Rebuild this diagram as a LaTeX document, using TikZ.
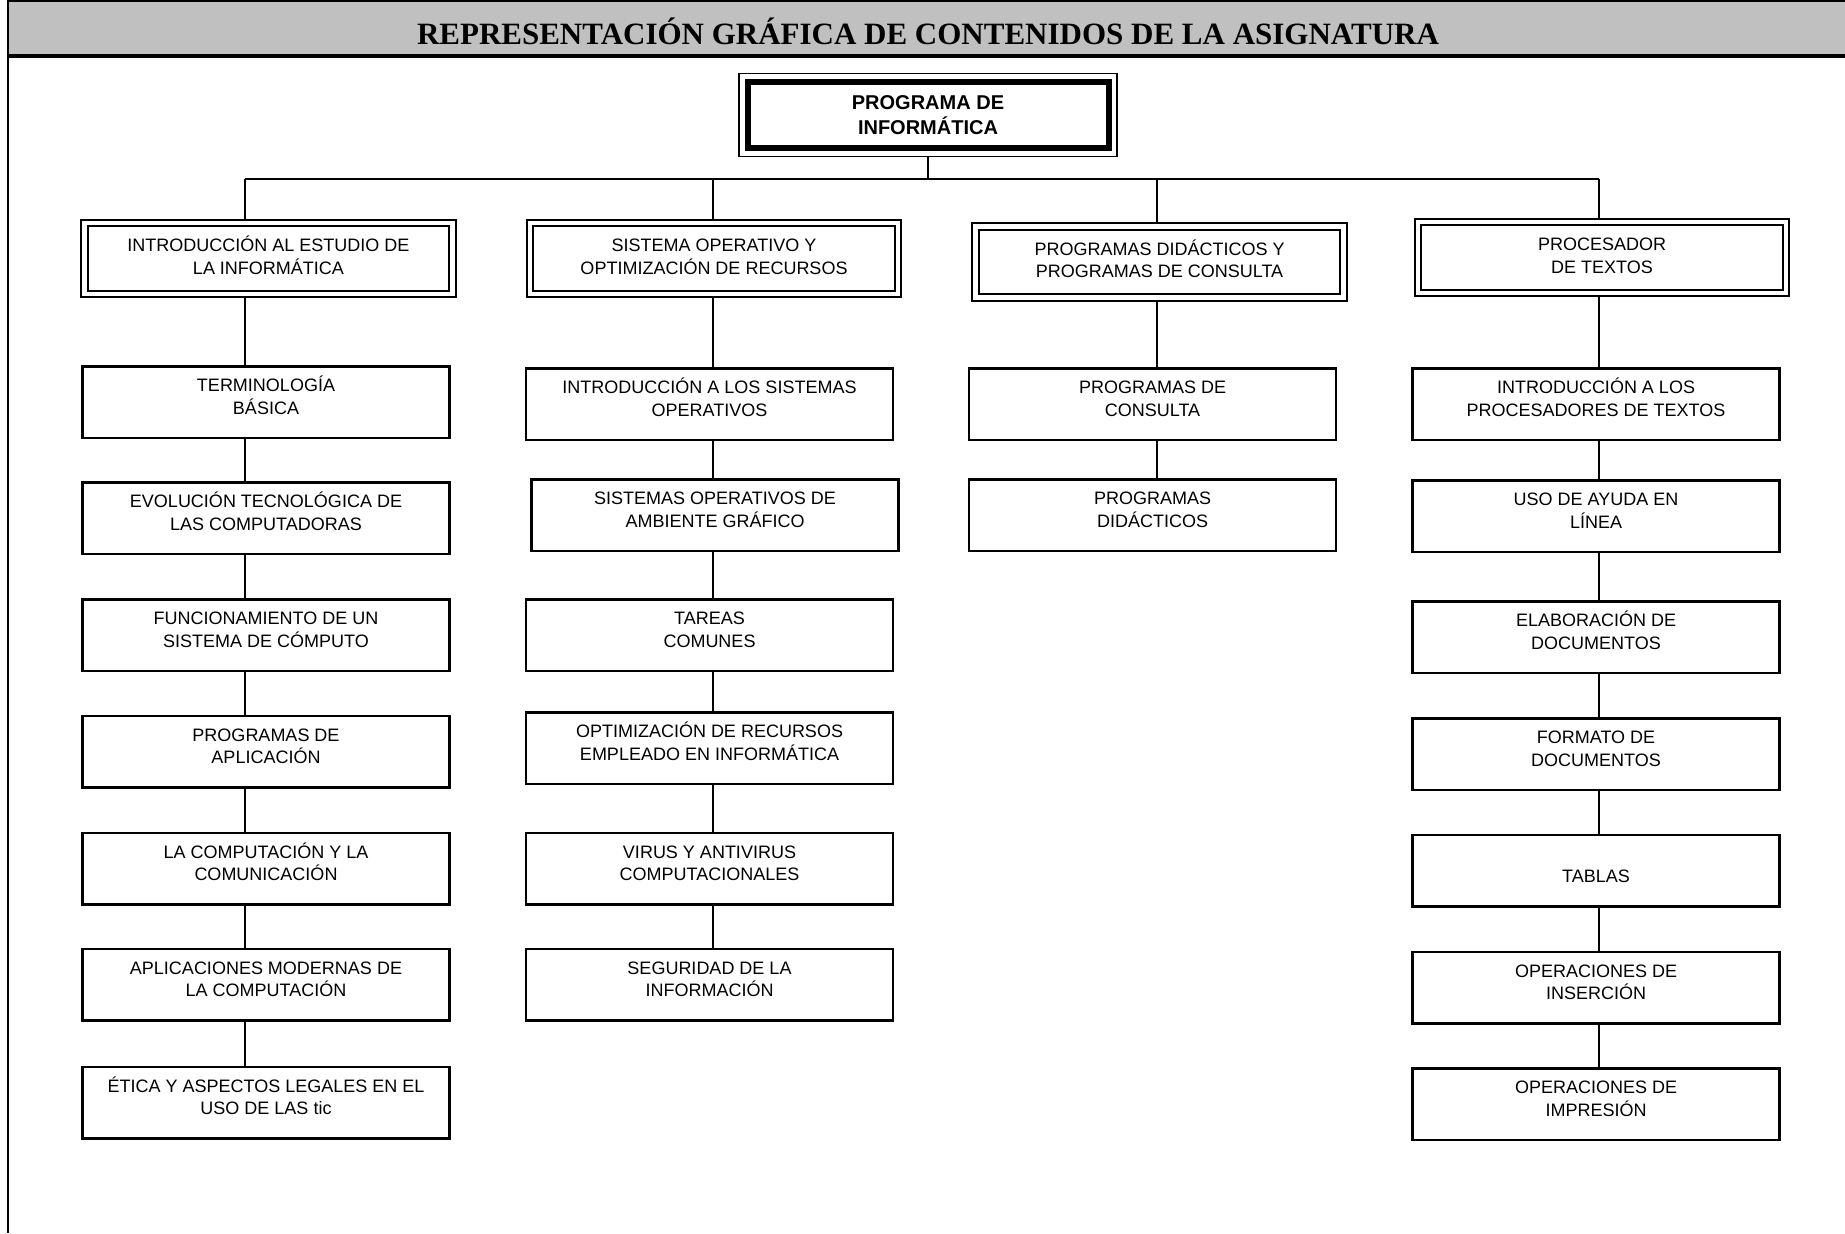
\documentclass[tikz,border=0pt]{standalone}
\usepackage{fontspec}
\setmainfont{Liberation Serif}
\setsansfont{Liberation Sans}
\usetikzlibrary{positioning}
\definecolor{barragris}{RGB}{192,192,192}

\begin{document}
\begin{tikzpicture}[x=0.5pt,y=-0.5pt]
          \useasboundingbox (0,0) rectangle (1845,1233);
          % marco y barra del titulo
          \fill[barragris] (8,1) rectangle (1845,56);
          \draw[line width=0.6pt] (8,1) -- (1845,1);
          \draw[line width=1.6pt] (8,56) -- (1845,56);
          \draw[line width=1pt] (8,0) -- (8,1233);
          \node (titulo) at (928,31) {\fontsize{15.5}{18}\selectfont\bfseries REPRESENTACIÓN GRÁFICA DE CONTENIDOS DE LA ASIGNATURA};
          \node (prog) [draw, line width=3pt, outer sep=4.25pt, minimum width=180.5pt, minimum height=33pt, align=center, font=\sffamily\bfseries\fontsize{10}{12.5}\selectfont] at (928,115) {PROGRAMA DE\\INFORMÁTICA};
          \draw[line width=0.6pt] (prog.north west) rectangle (prog.south east);
          \coordinate (bus) at (928,179);
          \coordinate (s1) at (245,179);
          \coordinate (s2) at (713,179);
          \coordinate (s3) at (1157,179);
          \coordinate (s4) at (1599,179);
          \begin{scope}[every node/.style={draw, double, line width=1.1pt, double distance=2.2pt, outer sep=2.2pt, minimum width=184pt, minimum height=35.5pt, align=center, text height=16pt, text depth=0.5pt, font=\sffamily\fontsize{9}{11.2}\selectfont}]
            \node (h1) at (268.5,258.5) {INTRODUCCIÓN AL ESTUDIO DE\\LA INFORMÁTICA};
            \node (h2) at (714,258.5) {SISTEMA OPERATIVO Y\\OPTIMIZACIÓN DE RECURSOS};
            \node (h3) at (1159.5,262) {PROGRAMAS DIDÁCTICOS Y\\PROGRAMAS DE CONSULTA};
            \node (h4) at (1602,257.5) {PROCESADOR\\DE TEXTOS};
          \end{scope}
          \begin{scope}[every node/.style={draw, line width=1.25pt, minimum width=183.3pt, minimum height=35.75pt, align=center, text height=13pt, text depth=1pt, font=\sffamily\fontsize{9}{11.2}\selectfont}]
            \node (a1) at (266,402) {TERMINOLOGÍA\\BÁSICA};
            \node (a2) at (266,518) {EVOLUCIÓN TECNOLÓGICA DE\\LAS COMPUTADORAS};
            \node (a3) at (266,635) {FUNCIONAMIENTO DE UN\\SISTEMA DE CÓMPUTO};
            \node (a4) at (266,751.5) {PROGRAMAS DE\\APLICACIÓN};
            \node (a5) at (266,868.5) {LA COMPUTACIÓN Y LA\\COMUNICACIÓN};
            \node (a6) at (266,984.5) {APLICACIONES MODERNAS DE\\LA COMPUTACIÓN};
            \node (a7) at (266,1102.5) {ÉTICA Y ASPECTOS LEGALES EN EL\\USO DE LAS tic};
            \node (b1) at (709.5,404) {INTRODUCCIÓN A LOS SISTEMAS\\OPERATIVOS};
            \node (b2) at (715,515) {SISTEMAS OPERATIVOS DE\\AMBIENTE GRÁFICO};
            \node (b3) at (709.5,635) {TAREAS\\COMUNES};
            \node (b4) at (709.5,748) {OPTIMIZACIÓN DE RECURSOS\\EMPLEADO EN INFORMÁTICA};
            \node (b5) at (709.5,868.5) {VIRUS Y ANTIVIRUS\\COMPUTACIONALES};
            \node (b6) at (709.5,984.5) {SEGURIDAD DE LA\\INFORMACIÓN};
            \node (c1) at (1152.5,404) {PROGRAMAS DE\\CONSULTA};
            \node (c2) at (1152.5,515) {PROGRAMAS\\DIDÁCTICOS};
            \node (d1) at (1596,404) {INTRODUCCIÓN A LOS\\PROCESADORES DE TEXTOS};
            \node (d2) at (1596,516) {USO DE AYUDA EN\\LÍNEA};
            \node (d3) at (1596,637) {ELABORACIÓN DE\\DOCUMENTOS};
            \node (d4) at (1596,754) {FORMATO DE\\DOCUMENTOS};
            \node (d5) at (1596,870.5) {TABLAS};
            \node (d6) at (1596,987.5) {OPERACIONES DE\\INSERCIÓN};
            \node (d7) at (1596,1104) {OPERACIONES DE\\IMPRESIÓN};
          \end{scope}
          \begin{scope}[line width=0.9pt]
            \path (prog.south) edge (bus);
            \path (s1) edge (s4);
            \path (s1) edge (h1.north -| s1);
            \path (s2) edge (h2.north -| s2);
            \path (s3) edge (h3.north -| s3);
            \path (s4) edge (h4.north -| s4);
            % primera columna
            \path (h1.south -| s1) edge (a1.north -| s1);
            \path (a1.south -| s1) edge (a2.north -| s1);
            \path (a2.south -| s1) edge (a3.north -| s1);
            \path (a3.south -| s1) edge (a4.north -| s1);
            \path (a4.south -| s1) edge (a5.north -| s1);
            \path (a5.south -| s1) edge (a6.north -| s1);
            \path (a6.south -| s1) edge (a7.north -| s1);
            % segunda columna
            \path (h2.south -| s2) edge (b1.north -| s2);
            \path (b1.south -| s2) edge (b2.north -| s2);
            \path (b2.south -| s2) edge (b3.north -| s2);
            \path (b3.south -| s2) edge (b4.north -| s2);
            \path (b4.south -| s2) edge (b5.north -| s2);
            \path (b5.south -| s2) edge (b6.north -| s2);
            % tercera columna
            \path (h3.south -| s3) edge (c1.north -| s3);
            \path (c1.south -| s3) edge (c2.north -| s3);
            % cuarta columna
            \path (h4.south -| s4) edge (d1.north -| s4);
            \path (d1.south -| s4) edge (d2.north -| s4);
            \path (d2.south -| s4) edge (d3.north -| s4);
            \path (d3.south -| s4) edge (d4.north -| s4);
            \path (d4.south -| s4) edge (d5.north -| s4);
            \path (d5.south -| s4) edge (d6.north -| s4);
            \path (d6.south -| s4) edge (d7.north -| s4);
          \end{scope}
        \end{tikzpicture}
\end{document}
